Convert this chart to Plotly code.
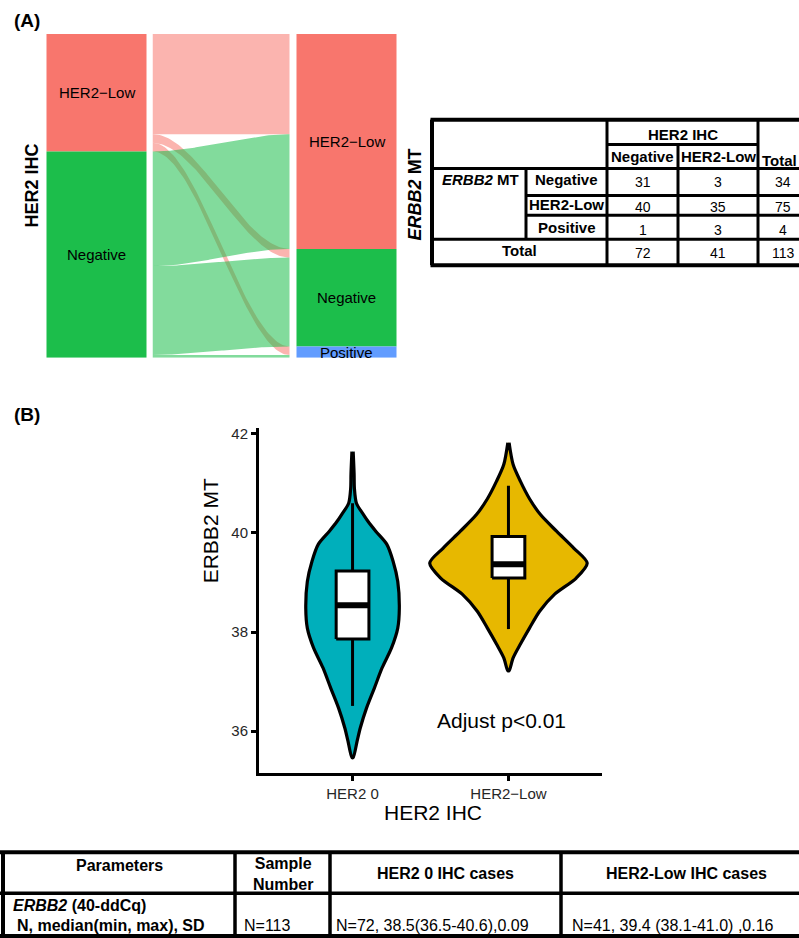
import numpy as np
import plotly.graph_objects as go

W, H = 799, 938
FONT = "Liberation Sans, Arial, Helvetica, sans-serif"

# ---------------- DATA ----------------
# Cross table: ERBB2 MT (rows) x HER2 IHC (columns)
mt_levels = ["Negative", "HER2-Low", "Positive"]
ihc_levels = ["Negative", "HER2-Low"]
counts_ihc_negative = [31, 40, 1]
counts_ihc_low = [3, 35, 3]

# alluvial strata (top to bottom)
ihc_strata_order = ["HER2-Low", "Negative"]
mt_strata_order = ["HER2-Low", "Negative", "Positive"]
strata_labels = {"HER2-Low": "HER2\u2212Low", "Negative": "Negative", "Positive": "Positive"}
strata_colors = {"HER2-Low": "#F8766D", "Negative": "#1CBE4B", "Positive": "#619CFF"}
flow_colors = {"HER2-Low": "rgba(248,118,109,0.55)", "Negative": "rgba(28,190,75,0.55)"}

# violin panel
violin_categories = ["HER2 0", "HER2\u2212Low"]
violin_fill = ["#00AFBB", "#E7B800"]
her2_0_profile_y = [41.64, 41.2, 40.9, 40.6, 40.37, 40.23, 40.03, 39.77, 39.43, 39.02,
                    38.48, 38.08, 37.68, 37.28, 36.87, 36.47, 36.07, 35.81, 35.47]
her2_0_profile_w = [0.004, 0.01, 0.012, 0.025, 0.07, 0.10, 0.15, 0.22, 0.26, 0.29,
                    0.30, 0.29, 0.25, 0.19, 0.14, 0.09, 0.05, 0.03, 0.004]
her2_low_profile_y = [41.82, 41.38, 41.04, 40.69, 40.37, 40.03, 39.69, 39.39, 39.09,
                      38.76, 38.42, 38.08, 37.76, 37.48, 37.22]
her2_low_profile_w = [0.004, 0.03, 0.077, 0.135, 0.205, 0.31, 0.42, 0.505, 0.435,
                      0.295, 0.20, 0.135, 0.077, 0.03, 0.004]
box_q1 = [37.86, 39.09]
box_median = [38.54, 39.37]
box_q3 = [39.23, 39.93]
box_lower = [36.51, 38.06]
box_upper = [40.60, 40.95]
p_label = "Adjust p<0.01"

# summary table
summary_header = ["Parameters", "Sample<br>Number", "HER2 0 IHC cases", "HER2-Low IHC cases"]
summary_param = ["<i>ERBB2</i> (40-ddCq)", "N, median(min, max), SD"]
summary_values = ["N=113", "N=72, 38.5(36.5-40.6),0.09", "N=41, 39.4 (38.1-41.0) ,0.16"]

# ---------------- helpers ----------------
def px(x):
    return x / W

def py(y):
    return 1 - y / H

count = {}
for i, mt in enumerate(mt_levels):
    count[("Negative", mt)] = counts_ihc_negative[i]
    count[("HER2-Low", mt)] = counts_ihc_low[i]
total = sum(counts_ihc_negative) + sum(counts_ihc_low)

fig = go.Figure()

# ---------------- alluvial ----------------
ptr = total
left_pos = {}
for ihc in ihc_strata_order:
    c = sum(count[(ihc, mt)] for mt in mt_levels)
    fig.add_trace(go.Bar(x=[1], y=[c], base=[ptr - c], width=0.4,
                         marker=dict(color=strata_colors[ihc], line=dict(width=0)),
                         xaxis="x2", yaxis="y2", showlegend=False, hoverinfo="skip"))
    left_pos[ihc] = (ptr, ptr - c)
    ptr -= c
ptr = total
right_pos = {}
for mt in mt_strata_order:
    c = sum(count[(ihc, mt)] for ihc in ihc_levels)
    fig.add_trace(go.Bar(x=[2], y=[c], base=[ptr - c], width=0.4,
                         marker=dict(color=strata_colors[mt], line=dict(width=0)),
                         xaxis="x2", yaxis="y2", showlegend=False, hoverinfo="skip"))
    right_pos[mt] = (ptr, ptr - c)
    ptr -= c

left_flow = {}
for ihc in ihc_strata_order:
    p = left_pos[ihc][0]
    for mt in mt_strata_order:
        c = count[(ihc, mt)]
        left_flow[(ihc, mt)] = (p, p - c)
        p -= c
right_flow = {}
for mt in mt_strata_order:
    p = right_pos[mt][0]
    for ihc in ihc_strata_order:
        c = count[(ihc, mt)]
        right_flow[(ihc, mt)] = (p, p - c)
        p -= c

t = np.linspace(0, 1, 80)
s = 3 * t ** 2 - 2 * t ** 3
x0f, x1f = 1.225, 1.772
for ihc in ihc_strata_order:
    for mt in mt_strata_order:
        lt, lb = left_flow[(ihc, mt)]
        rt, rb = right_flow[(ihc, mt)]
        xs = x0f + (x1f - x0f) * t
        top = lt + (rt - lt) * s
        bot = lb + (rb - lb) * s
        fig.add_trace(go.Scatter(x=np.concatenate([xs, xs[::-1]]), y=np.concatenate([top, bot[::-1]]),
                                 mode="lines", fill="toself", fillcolor=flow_colors[ihc],
                                 line=dict(width=0), xaxis="x2", yaxis="y2",
                                 showlegend=False, hoverinfo="skip"))

annotations = []
for ihc in ihc_strata_order:
    a, b = left_pos[ihc]
    annotations.append(dict(x=1, y=(a + b) / 2, xref="x2", yref="y2", text=strata_labels[ihc],
                            showarrow=False, font=dict(size=15, color="black", family=FONT)))
for mt in mt_strata_order:
    a, b = right_pos[mt]
    annotations.append(dict(x=2, y=(a + b) / 2, xref="x2", yref="y2", text=strata_labels[mt],
                            showarrow=False, font=dict(size=15, color="black", family=FONT)))

# ---------------- violins + boxes ----------------
profiles = [(her2_0_profile_y, her2_0_profile_w), (her2_low_profile_y, her2_low_profile_w)]
for k, (vy, vw) in enumerate(profiles):
    c = k + 1
    vy = np.array(vy); vw = np.array(vw)
    xs = np.concatenate([c + vw, (c - vw)[::-1]])
    ys = np.concatenate([vy, vy[::-1]])
    fig.add_trace(go.Scatter(x=xs, y=ys, mode="lines", fill="toself", fillcolor=violin_fill[k],
                             line=dict(color="black", width=3.2, shape="spline", smoothing=0.8),
                             xaxis="x", yaxis="y", showlegend=False, hoverinfo="skip"))

bw = 0.105
for k in range(len(box_q1)):
    c = k + 1
    for a, b in ((box_q3[k], box_upper[k]), (box_lower[k], box_q1[k])):
        fig.add_trace(go.Scatter(x=[c, c], y=[a, b], mode="lines", line=dict(color="black", width=3),
                                 xaxis="x", yaxis="y", showlegend=False, hoverinfo="skip"))
    fig.add_trace(go.Scatter(x=[c - bw, c + bw, c + bw, c - bw, c - bw],
                             y=[box_q1[k], box_q1[k], box_q3[k], box_q3[k], box_q1[k]],
                             mode="lines", fill="toself", fillcolor="white",
                             line=dict(color="black", width=3),
                             xaxis="x", yaxis="y", showlegend=False, hoverinfo="skip"))
    fig.add_trace(go.Scatter(x=[c - bw, c + bw], y=[box_median[k], box_median[k]], mode="lines",
                             line=dict(color="black", width=6), xaxis="x", yaxis="y",
                             showlegend=False, hoverinfo="skip"))

annotations.append(dict(x=1.955, y=36.21, xref="x", yref="y", text=p_label, showarrow=False,
                        font=dict(size=21, color="black", family=FONT)))

# ---------------- panel labels / titles ----------------
def ann_px(x, y, text, size, **kw):
    d = dict(x=px(x), y=py(y), xref="paper", yref="paper", text=text, showarrow=False,
             font=dict(size=size, color="black", family=FONT), xanchor="center", yanchor="middle")
    d.update(kw)
    annotations.append(d)

ann_px(27, 18, "<b>(A)</b>", 19)
ann_px(27, 413, "<b>(B)</b>", 19)
ann_px(32, 183, "<b>HER2 IHC</b>", 18, textangle=-90)
ann_px(415, 192, "<b><i>ERBB2</i> MT</b>", 18, textangle=-90)
ann_px(210, 530, "ERBB2 MT", 21, textangle=-90)
ann_px(433, 812, "HER2 IHC", 21)

# ---------------- top table ----------------
shapes = []
def hline(x0, x1, y, w=3):
    shapes.append(dict(type="line", xref="paper", yref="paper", x0=px(x0), x1=px(x1), y0=py(y), y1=py(y),
                       line=dict(color="black", width=w)))
def vline(x, y0, y1, w=3):
    shapes.append(dict(type="line", xref="paper", yref="paper", x0=px(x), x1=px(x), y0=py(y0), y1=py(y1),
                       line=dict(color="black", width=w)))

C = [432, 526, 607, 678, 758, 808]
R = [117, 142, 166, 193, 213, 237, 263]
hline(C[0] - 1.5, 830, R[0], 4)
hline(C[0] - 1.5, 830, R[6], 4)
vline(C[0], R[0], R[6], 4)
vline(C[2], R[0], R[6])
vline(C[4], R[0], R[6])
vline(C[3], R[1], R[6])
hline(C[2], C[4], R[1])
hline(C[0], 830, R[2])
vline(C[1], R[2], R[5])
hline(C[1], 830, R[3])
hline(C[1], 830, R[4])
hline(C[0], 830, R[5])

cx = lambda a, b: (a + b) / 2
ann_px(cx(C[2], C[4]), 132, "<b>HER2 IHC</b>", 15)
ann_px(cx(C[2], C[3]), 154, "<b>Negative</b>", 15)
ann_px(cx(C[3], C[4]), 154, "<b>HER2-Low</b>", 15)
ann_px(760, 158, "<b>Total</b>", 15, xanchor="left")
ann_px(440, 177, "<b><i>ERBB2</i> MT</b>", 15, xanchor="left")
row_y = [178, 203, 226]
for i, mt in enumerate(mt_levels):
    ann_px(cx(C[1], C[2]), row_y[i] - 1, "<b>%s</b>" % mt, 15)
    ann_px(cx(C[2], C[3]), row_y[i] + 2, str(counts_ihc_negative[i]), 14)
    ann_px(cx(C[3], C[4]), row_y[i] + 2, str(counts_ihc_low[i]), 14)
    ann_px(cx(C[4], C[5]), row_y[i] + 2, str(counts_ihc_negative[i] + counts_ihc_low[i]), 14)
ann_px(cx(C[0], C[2]), 248, "<b>Total</b>", 15)
ann_px(cx(C[2], C[3]), 251, str(sum(counts_ihc_negative)), 14)
ann_px(cx(C[3], C[4]), 251, str(sum(counts_ihc_low)), 14)
ann_px(cx(C[4], C[5]), 251, str(total), 14)

# ---------------- bottom table ----------------
BC = [3, 235, 330, 561, 811]
BR = [852, 893, 936]
hline(0, 830, BR[0], 4)
hline(0, 830, BR[1], 3.5)
hline(0, 830, BR[2], 4)
vline(BC[0], BR[0], BR[2], 4)
for xc in BC[1:4]:
    vline(xc, BR[0], BR[2], 3.5)
hy = [865, 874, 873, 873]
for j, h in enumerate(summary_header):
    ann_px(cx(BC[j], BC[j + 1]), hy[j], "<b>%s</b>" % h, 16)
ann_px(11, 905, "<b>%s</b>" % summary_param[0], 16, xanchor="left")
ann_px(15, 925, "<b>%s</b>" % summary_param[1], 16, xanchor="left")
val_x = [242, 334, 570]
for j, v in enumerate(summary_values):
    ann_px(val_x[j], 925, v, 16, xanchor="left")

# ---------------- layout ----------------
axis_common = dict(showgrid=False, zeroline=False, showline=True, linecolor="black", linewidth=3,
                   ticks="outside", ticklen=5, tickwidth=2.5, tickcolor="black",
                   tickfont=dict(size=15, color="#262626", family=FONT))
fig.update_layout(
    width=W, height=H, margin=dict(l=0, r=0, t=0, b=0),
    paper_bgcolor="white", plot_bgcolor="white",
    font=dict(family=FONT, color="black"),
    barmode="overlay", showlegend=False,
    xaxis=dict(domain=[px(259), px(602)], range=[0.4, 2.6], tickvals=[1, 2], ticktext=violin_categories,
               anchor="y", **axis_common),
    yaxis=dict(domain=[py(772), py(426.7)], range=[35.166, 42.11], tickvals=[36, 38, 40, 42],
               anchor="x", **axis_common),
    xaxis2=dict(domain=[px(36.5), px(406.5)], range=[0.76, 2.24], visible=False, anchor="y2"),
    yaxis2=dict(domain=[py(356), py(31)], range=[0, total], visible=False, anchor="x2"),
    annotations=annotations, shapes=shapes,
)
fig.write_html("out.html", config={"displayModeBar": False},
               post_script="document.body.style.margin='0';document.body.style.overflow='hidden';")
